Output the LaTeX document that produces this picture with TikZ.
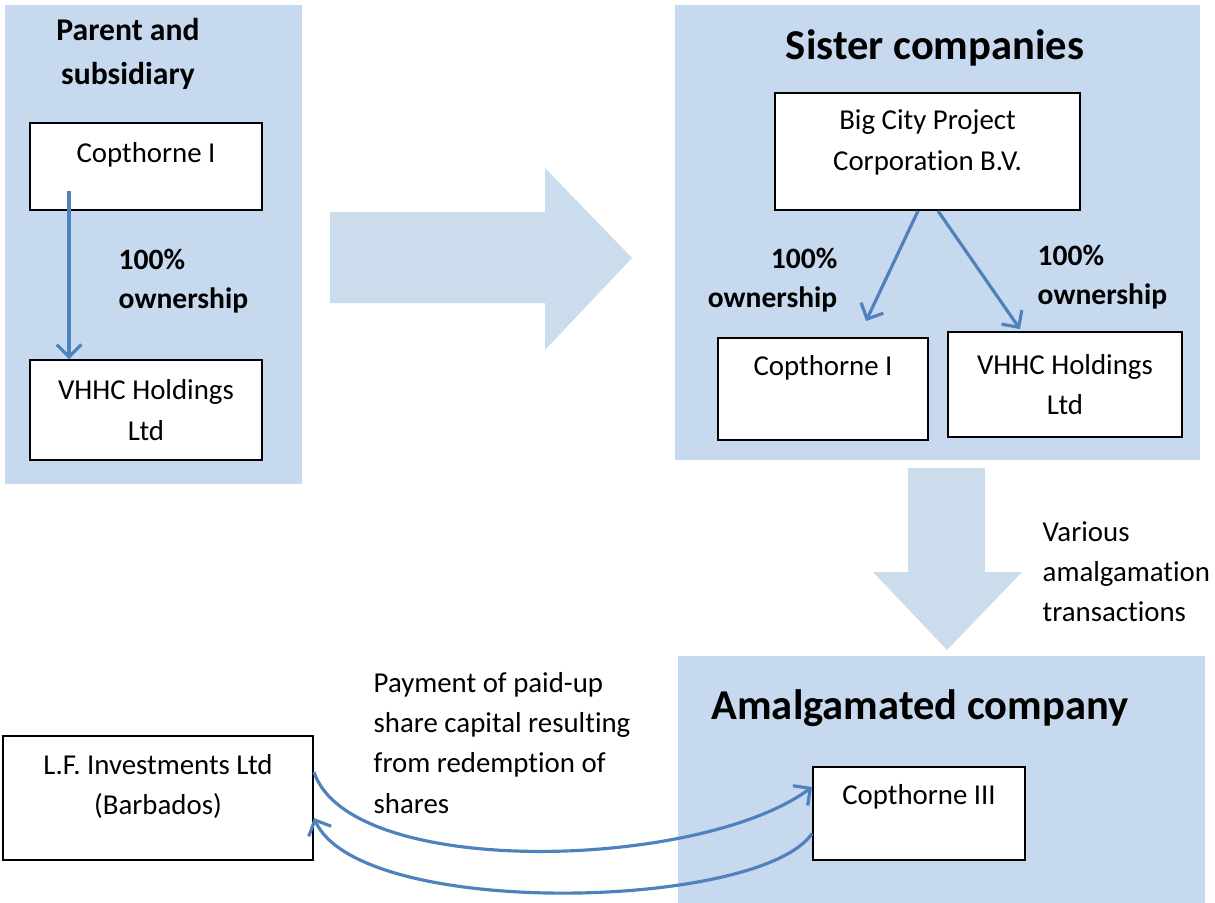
\documentclass[tikz,border=0pt]{standalone}
\usepackage{fontspec}
\setmainfont[Ligatures=NoCommon]{Carlito}
\usetikzlibrary{arrows.meta}

\definecolor{panelblue}{RGB}{198,217,238}
\definecolor{arrowblue}{RGB}{203,220,237}
\definecolor{linkblue}{RGB}{79,129,189}

\tikzset{
	panel/.style={fill=panelblue, draw=none},
	bigarrow/.style={fill=arrowblue, draw=none},
	box/.style={draw, fill=white, line width=0.5pt, align=center, inner sep=0pt, font=\fontsize{8.2}{11.6}\selectfont},
	owner/.style={inner sep=0pt, font=\bfseries\fontsize{8.4}{11.2}\selectfont},
	note/.style={inner sep=0pt, align=left, anchor=west, font=\fontsize{8.2}{11.4}\selectfont},
	heading/.style={inner sep=0pt, align=center, font=\bfseries\fontsize{12.1}{14}\selectfont},
	link/.style={draw=linkblue, line width=0.9pt, -{Straight Barb[length=3.5pt,width=7pt]}}
}

\begin{document}
\begin{tikzpicture}[x=0.01cm, y=-0.01cm]
		\useasboundingbox (0,0) rectangle (1215,903);
		% background panels and big arrows
		\fill[panel] (5,5) rectangle (302,484);
		\fill[panel] (675,5) rectangle (1200,460);
		\fill[panel] (678,656) rectangle (1205,903);
		\fill[bigarrow] (330,212) -- (545,212) -- (545,168) -- (632,258) -- (545,350) -- (545,303) -- (330,303) -- cycle;
		\fill[bigarrow] (908,468) -- (985,468) -- (985,572) -- (1022,572) -- (947,650) -- (873,572) -- (908,572) -- cycle;
		
		% parent and subsidiary
		\node[heading, font=\bfseries\fontsize{9}{12.5}\selectfont] (parenttitle) at (128,54) {Parent and\\subsidiary};
		\node[box, minimum width=2.32cm, minimum height=0.87cm, text depth=8pt] (copL) at (146,166.5) {Copthorne I};
		\node[box, minimum width=2.32cm, minimum height=1cm] (vhhcL) at (146,410) {VHHC Holdings\\Ltd};
		\node[owner, align=left, anchor=west] (ownL) at (118,281) {100\%\\ownership};
		\draw[link] ([xshift=0.4cm,yshift=0.2cm]copL.south west) -- ([xshift=0.4cm]vhhcL.north west);
		
		% sister companies
		\node[heading] (sistertitle) at (935,48) {Sister companies};
		\node[box, minimum width=3.05cm, minimum height=1.17cm, text depth=6.4pt] (bigcity) at (927.5,151.5) {Big City Project\\Corporation B.V.};
		\node[box, minimum width=2.1cm, minimum height=1.02cm, text depth=13.6pt] (copR) at (823,389) {Copthorne I};
		\node[box, minimum width=2.34cm, minimum height=1.05cm] (vhhcR) at (1065,384.5) {VHHC Holdings\\Ltd};
		\node[owner, align=right, anchor=east] (ownA) at (838,280) {100\%\\ownership};
		\node[owner, align=left, anchor=west] (ownB) at (1037,277) {100\%\\ownership};
		\draw[link] ([xshift=-0.095cm]bigcity.south) -- ([xshift=0.43cm,yshift=0.16cm]copR.north);
		\draw[link] ([xshift=0.105cm]bigcity.south) -- ([xshift=-0.45cm,yshift=0.02cm]vhhcR.north);
		\node[note] (various) at (1042,571.5) {Various\\amalgamation\\transactions};
		
		% amalgamated company
		\node[heading] (amaltitle) at (920,708) {Amalgamated company};
		\node[box, minimum width=2.12cm, minimum height=0.93cm, text depth=10.7pt] (cop3) at (919,813.5) {Copthorne III};
		\node[box, minimum width=3.1cm, minimum height=1.24cm, text depth=7.7pt] (lfinv) at (158,798) {L.F. Investments Ltd\\(Barbados)};
		\node[note] (payment) at (373,743) {Payment of paid-up\\share capital resulting\\from redemption of\\shares};
		\draw[link] ([yshift=0.26cm]lfinv.east) .. controls (350,880) and (700,870) .. ([yshift=0.265cm]cop3.west);
		\draw[link] ([yshift=-0.2cm]cop3.west) .. controls (760,910) and (360,920) .. ([yshift=-0.2cm]lfinv.east);
	\end{tikzpicture}
\end{document}
